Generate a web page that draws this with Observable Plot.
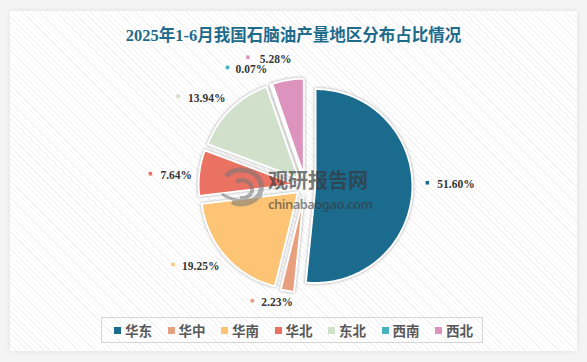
<!DOCTYPE html>
<html><head><meta charset="utf-8">
<script src="https://cdn.jsdelivr.net/npm/d3@7"></script>
<script src="https://cdn.jsdelivr.net/npm/@observablehq/plot@0.6"></script>
<style>
html,body{margin:0;padding:0;background:#f4f4f4;}
#wrap{position:relative;width:587px;height:362px;overflow:hidden;background:#f4f4f4;font-family:"Noto Sans CJK SC",sans-serif;}
#panel{position:absolute;left:10px;top:11px;width:567px;height:340px;background-color:#fff;
  background-image:repeating-linear-gradient(45deg, rgba(0,0,0,0.045) 0 1px, transparent 1px 4px);
  box-shadow:0 0 6px rgba(0,0,0,0.08);}
#title{position:absolute;left:0;width:587px;top:26px;line-height:20px;text-align:center;font-family:"Liberation Serif","Noto Sans CJK SC",serif;font-weight:bold;font-size:16.5px;color:#1e6b8c;}
#chart{position:absolute;left:0;top:0;}
#chart svg{display:block;}
.slices{filter:drop-shadow(0px 0px 1.5px rgba(0,0,0,0.35));}
#legend{position:absolute;left:101px;top:317px;width:382px;height:26px;box-sizing:border-box;border:1.5px solid #d6d6d6;display:flex;align-items:center;padding-left:12px;}
.item{display:flex;align-items:center;width:53.5px;flex:none;}
.sw{width:7px;height:7px;margin-right:4px;flex:none;}
.lt{font-size:13.5px;font-weight:bold;color:#595959;line-height:16px;white-space:nowrap;}
#wm{position:absolute;left:0;top:0;width:587px;height:362px;pointer-events:none;}
</style></head>
<body>
<div id="wrap">
  <div id="panel"></div>
  <div id="title">2025年1-6月我国石脑油产量地区分布占比情况</div>
  <div id="chart"></div>
  <svg id="wm" width="587" height="362">
    <g opacity="0.55" fill="none" stroke="#777">
      <path d="M 226 176 A 20 17 0 1 1 232 202" stroke-width="5"/>
      <path d="M 236 182 A 10 9 0 1 1 240 198" stroke-width="4"/>
      <path d="M 222 194 Q 240 206 262 196" stroke-width="3"/>
    </g>
    <text x="268" y="188" font-family="Noto Sans CJK SC" font-weight="bold" font-size="20" fill="rgba(55,55,55,0.68)">观研报告网</text>
    <text x="268" y="209" font-family="Noto Sans" font-weight="600" font-size="13" fill="rgba(55,55,55,0.6)" textLength="105">chinabaogao.com</text>
  </svg>
  <div id="legend"></div>
</div>
<script>
// ---- data ----
const regions = ["华东", "华中", "华南", "华北", "东北", "西南", "西北"];
const shares = [51.60, 2.23, 19.25, 7.64, 13.94, 0.07, 5.28];
const labels = ["51.60%", "2.23%", "19.25%", "7.64%", "13.94%", "0.07%", "5.28%"];
const colors = ["#1b6b8e", "#e89f7e", "#fdc476", "#e97262", "#d0e0cb", "#48b3bf", "#dc93bd"];

// ---- layout ----
const cx = 305, cy = 185, R = 97, explode = 10, labelR = 125;
const labelNudge = [[-3, -9], [-32, -8], [-39, -4], [-31, 3], [-40, 0], [-37, 0], [-37, -5]];
const textGap = [10, 9, 9, 10, 10, 8, 12];

const arcs = d3.pie().sort(null).value(d => d)(shares);
const slicePts = [];
const labelData = [];
arcs.forEach((a, i) => {
  const mid = (a.startAngle + a.endAngle) / 2;
  const ox = cx + explode * Math.sin(mid), oy = cy - explode * Math.cos(mid);
  slicePts.push({name: regions[i], x: ox, y: oy});
  const n = Math.max(2, Math.ceil((a.endAngle - a.startAngle) / (Math.PI / 180)));
  for (let k = 0; k <= n; k++) {
    const t = a.startAngle + (a.endAngle - a.startAngle) * k / n;
    slicePts.push({name: regions[i], x: ox + R * Math.sin(t), y: oy - R * Math.cos(t)});
  }
  const bx = cx + labelR * Math.sin(mid), by = cy - labelR * Math.cos(mid);
  const mx = bx + labelNudge[i][0], my = by + labelNudge[i][1];
  labelData.push({name: regions[i], label: labels[i], mx, my, tx: mx + textGap[i], ty: my + 2});
});

const chart = Plot.plot({
  width: 587, height: 362, margin: 0,
  x: {domain: [0, 587], range: [0, 587], axis: null},
  y: {domain: [0, 362], range: [0, 362], axis: null},
  color: {domain: regions, range: colors},
  style: {background: "transparent", overflow: "visible"},
  marks: [
    Plot.line(slicePts, {x: "x", y: "y", z: "name", fill: "name", stroke: "white", strokeWidth: 2,
      curve: "linear-closed", strokeLinejoin: "round", className: "slices"}),
    Plot.dot(labelData, {x: "mx", y: "my", symbol: "square", r: 2, fill: "name"}),
    Plot.text(labelData, {x: "tx", y: "ty", text: "label", textAnchor: "start", fontSize: 11.5,
      fontWeight: "bold", fontFamily: "Liberation Serif", fill: "#363636"})
  ]
});
document.getElementById("chart").appendChild(chart);

const lg = document.getElementById("legend");
regions.forEach((r, i) => {
  const it = document.createElement("div"); it.className = "item";
  const sw = document.createElement("div"); sw.className = "sw"; sw.style.background = colors[i];
  const t = document.createElement("span"); t.className = "lt"; t.textContent = r;
  it.appendChild(sw); it.appendChild(t); lg.appendChild(it);
});
</script>
</body></html>
